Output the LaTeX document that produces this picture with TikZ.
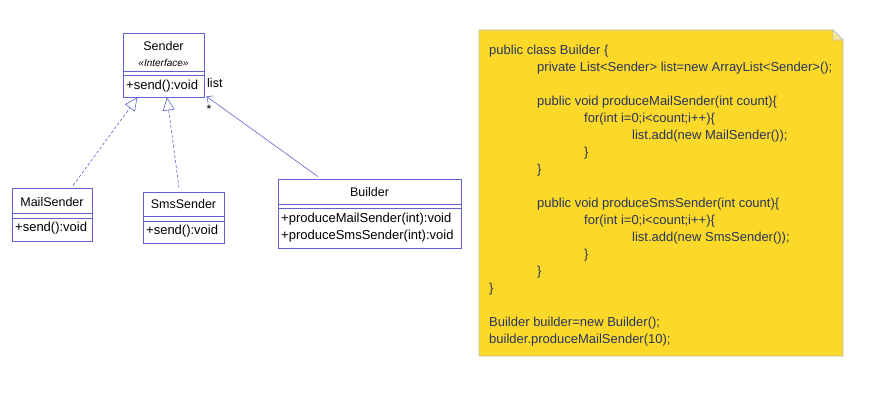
\documentclass[tikz,border=0pt]{standalone}
\usepackage{fontspec}
\setmainfont{Liberation Sans}
\usetikzlibrary{arrows.meta}

\definecolor{umlblue}{RGB}{96,96,208}
\definecolor{noteyellow}{RGB}{252,217,40}
\definecolor{notefold}{RGB}{246,232,150}
\definecolor{notegrey}{RGB}{192,192,192}
\definecolor{codeblue}{RGB}{40,52,92}

\begin{document}
\begin{tikzpicture}[x = 1pt, y = -1pt, font = \fontsize{12.5}{14}\selectfont,
  umlbox/.style = {draw = umlblue, line width = 0.8pt, inner sep = 0pt},
  divider/.style = {draw = umlblue, line width = 0.8pt},
  realize/.style = {draw = umlblue, line width = 0.6pt, dash pattern = on 3pt off 2pt, -{Triangle[open, length = 13pt, width = 12pt]}},
  assoc/.style = {draw = umlblue, line width = 0.6pt, -{Straight Barb[length = 5pt, width = 9pt]}},
  member/.style = {anchor = west, inner sep = 0pt, font = \fontsize{13}{14}\selectfont}]
  \useasboundingbox (0,0) rectangle (873,406);

  % classes
  \node (sender) [umlbox, minimum width = 81pt, minimum height = 64pt] at (163.5,65) {};
  \node (mail) [umlbox, minimum width = 80pt, minimum height = 53pt] at (52,214.5) {};
  \node (sms) [umlbox, minimum width = 81pt, minimum height = 51pt] at (183.5,217.5) {};
  \node (builder) [umlbox, minimum width = 183pt, minimum height = 69pt] at (369.5,213.5) {};

  \foreach \n/\a/\b in {sender/39/43, mail/26/31, sms/25/30, builder/26/30} {
    \draw [divider] ([yshift = -\a pt]\n.north west) -- ([yshift = -\a pt]\n.north east);
    \draw [divider] ([yshift = -\b pt]\n.north west) -- ([yshift = -\b pt]\n.north east);
  }

  \node (senderName) at (163.5,46) {Sender};
  \node (senderStereo) at (163.5,63) {\fontsize{10}{11}\selectfont\itshape «Interface»};
  \node (senderSend) [member] at (126,86) {+send():void};

  \node (mailName) at (52,202) {MailSender};
  \node (mailSend) [member] at (15,228) {+send():void};

  \node (smsName) at (183.5,204) {SmsSender};
  \node (smsSend) [member] at (146,231) {+send():void};

  \node (builderName) at (369.5,192) {Builder};
  \node (builderMail) [member] at (281,219) {+produceMailSender(int):void};
  \node (builderSms) [member] at (281,236) {+produceSmsSender(int):void};

  % relations
  \draw [realize] ([xshift = 21pt, yshift = 2pt]mail.north) -- ([xshift = -26pt]sender.south);
  \draw [realize] ([xshift = -4.5pt, yshift = 4pt]sms.north) -- ([xshift = 3.5pt]sender.south);
  \draw [assoc] ([xshift = -51.5pt, yshift = 2pt]builder.north) -- ([xshift = 2pt, yshift = 1pt]sender.south east);
  \node (listRole) [anchor = west, inner sep = 0pt] at (207,83) {list};
  \node (listMult) [inner sep = 0pt] at (209,109) {*};

  % note
  \filldraw [fill = noteyellow, draw = notegrey, line width = 0.8pt]
    (479,30) -- (833,30) -- (843,40) -- (843,356) -- (479,356) -- cycle;
  \filldraw [fill = notefold, draw = notegrey, line width = 0.8pt]
    (833,30) -- (833,40) -- (843,40) -- cycle;
  \node (code) [anchor = base west, inner sep = 0pt, align = left, text = codeblue,
    font = \fontsize{13}{17}\selectfont] at (489,343) {%
    public class Builder \{\\
    \hspace*{48pt}private List<Sender> list=new ArrayList<Sender>();\\
    \mbox{}\\
    \hspace*{48pt}public void produceMailSender(int count)\{\\
    \hspace*{95pt}for(int i=0;i<count;i++)\{\\
    \hspace*{143pt}list.add(new MailSender());\\
    \hspace*{95pt}\}\\
    \hspace*{48pt}\}\\
    \mbox{}\\
    \hspace*{48pt}public void produceSmsSender(int count)\{\\
    \hspace*{95pt}for(int i=0;i<count;i++)\{\\
    \hspace*{143pt}list.add(new SmsSender());\\
    \hspace*{95pt}\}\\
    \hspace*{48pt}\}\\
    \}\\
    \mbox{}\\
    Builder builder=new Builder();\\
    builder.produceMailSender(10);};
\end{tikzpicture}
\end{document}
